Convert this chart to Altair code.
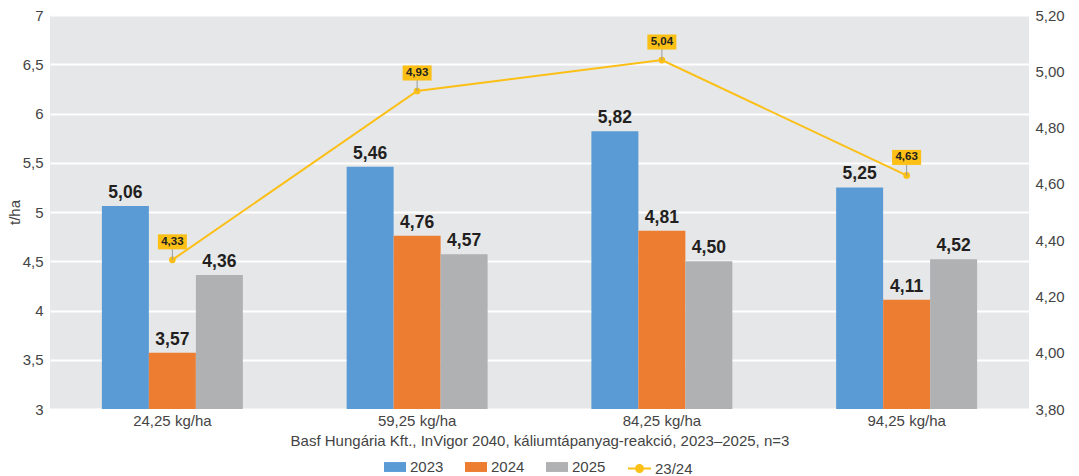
import altair as alt
import pandas as pd

# Potassium rate treatments and yearly yields (t/ha)
rates = ["24,25 kg/ha", "59,25 kg/ha", "84,25 kg/ha", "94,25 kg/ha"]
years = ["2023", "2024", "2025"]
yield_2023 = [5.06, 5.46, 5.82, 5.25]
yield_2024 = [3.57, 4.76, 4.81, 4.11]
yield_2025 = [4.36, 4.57, 4.50, 4.52]
avg_23_24 = [4.33, 4.93, 5.04, 4.63]

bar_colors = ["#5b9bd5", "#ed7d31", "#b0b1b3"]
line_color = "#fbbf16"
font = "Liberation Sans"

bars_df = pd.DataFrame(
    [
        {"rate": r, "year": y, "value": v}
        for y, vals in zip(years, [yield_2023, yield_2024, yield_2025])
        for r, v in zip(rates, vals)
    ]
)
line_df = pd.DataFrame({"rate": rates, "value": avg_23_24, "series": "23/24"})

x_enc = alt.X(
    "rate:N",
    sort=rates,
    scale=alt.Scale(paddingInner=0.424, paddingOuter=0.212),
    axis=alt.Axis(
        title="Basf Hungária Kft., InVigor 2040, káliumtápanyag-reakció, 2023–2025, n=3",
        labelAngle=0,
        labelFontSize=15,
        labelColor="#444444",
        labelFont=font,
        labelPadding=4,
        titleFontSize=15,
        titleFontWeight="normal",
        titleColor="#444444",
        titleFont=font,
        titlePadding=5,
        domain=False,
        ticks=False,
    ),
)

y_left = alt.Y(
    "value:Q",
    scale=alt.Scale(domain=[3, 7], zero=False, nice=False),
    axis=alt.Axis(
        title="t/ha",
        values=[3, 3.5, 4, 4.5, 5, 5.5, 6, 6.5, 7],
        labelExpr="replace(format(datum.value, '~g'), '.', ',')",
        labelFontSize=15,
        labelColor="#444444",
        labelFont=font,
        labelPadding=7,
        titleFontSize=15,
        titleFontWeight="normal",
        titleColor="#444444",
        titleFont=font,
        titlePadding=0,
        grid=True,
        gridColor="white",
        gridWidth=2,
        domain=False,
        ticks=False,
    ),
)

bars = (
    alt.Chart(bars_df)
    .mark_bar(stroke=None)
    .encode(
        x=x_enc,
        xOffset=alt.XOffset("year:N", sort=years, scale=alt.Scale(paddingInner=0, paddingOuter=0)),
        y=y_left,
        y2=alt.datum(3),
        color=alt.Color(
            "year:N",
            sort=years,
            scale=alt.Scale(domain=years, range=bar_colors),
            legend=alt.Legend(
                title=None,
                orient="none",
                legendX=334,
                legendY=441,
                direction="horizontal",
                symbolType="M-1,-0.45H1V0.45H-1Z",
                symbolSize=484,
                symbolStrokeWidth=0,
                labelFontSize=15,
                labelFont=font,
                labelColor="#444444",
                labelOffset=4,
                columnPadding=21,
            ),
        ),
    )
)

bar_text = (
    alt.Chart(bars_df)
    .transform_calculate(label="replace(format(datum.value, '.2f'), '.', ',')")
    .mark_text(fontSize=17.5, fontWeight="bold", font=font, color="#231f20", dy=-13)
    .encode(
        x=alt.X("rate:N", sort=rates),
        xOffset=alt.XOffset("year:N", sort=years),
        y=alt.Y("value:Q"),
        text="label:N",
    )
)

left_layer = alt.layer(bars, bar_text)

y_right = alt.Y(
    "value:Q",
    scale=alt.Scale(domain=[3.8, 5.2], zero=False, nice=False),
    axis=alt.Axis(
        orient="right",
        title=None,
        values=[3.8, 4.0, 4.2, 4.4, 4.6, 4.8, 5.0, 5.2],
        labelExpr="replace(format(datum.value, '.2f'), '.', ',')",
        labelFontSize=15,
        labelColor="#444444",
        labelFont=font,
        labelPadding=6,
        labelBaseline="middle",
        grid=False,
        domain=False,
        ticks=False,
    ),
)

line_base = alt.Chart(line_df).encode(x=alt.X("rate:N", sort=rates))

line = line_base.mark_line(strokeWidth=2).encode(
    y=y_right,
    stroke=alt.Stroke(
        "series:N",
        scale=alt.Scale(domain=["23/24"], range=[line_color]),
        legend=alt.Legend(
            title=None,
            orient="none",
            legendX=577,
            legendY=441,
            symbolType="M-1,0H1M-0.3,0A0.3,0.3,0,1,1,0.3,0A0.3,0.3,0,1,1,-0.3,0Z",
            symbolSize=529,
            symbolStrokeWidth=2,
            symbolFillColor=line_color,
            labelFontSize=15,
            labelFont=font,
            labelColor="#444444",
            labelOffset=3,
        ),
    ),
)

dots = line_base.mark_circle(size=45, color=line_color, opacity=1).encode(
    y=alt.Y("value:Q")
)

leaders = line_base.mark_rule(color="#9a9a9a", strokeWidth=1, y2Offset=-11).encode(
    y=alt.Y("value:Q"), y2=alt.Y2("value")
)

boxes = line_base.mark_point(
    shape="M-1,-0.52H1V0.52H-1Z", size=841, filled=True, fill=line_color, opacity=1,
    strokeWidth=0, yOffset=-18,
).encode(y=alt.Y("value:Q"))

box_text = (
    line_base.transform_calculate(label="replace(format(datum.value, '.2f'), '.', ',')")
    .mark_text(fontSize=11.5, fontWeight="bold", font=font, color="#231f20", yOffset=-18, baseline="middle")
    .encode(y=alt.Y("value:Q"), text="label:N")
)

right_layer = alt.layer(line, dots, leaders, boxes, box_text)

chart = (
    alt.layer(left_layer, right_layer)
    .resolve_scale(y="independent", color="independent", stroke="independent")
    .properties(
        width=979,
        height=394,
        autosize=alt.AutoSizeParams(type="none"),
        padding={"left": 50, "top": 15, "right": 50, "bottom": 67},
        background="white",
    )
    .configure_view(fill="#e6e7e8", stroke=None)
)

chart.save("out.html", embed_options={"renderer": "svg", "actions": False})
